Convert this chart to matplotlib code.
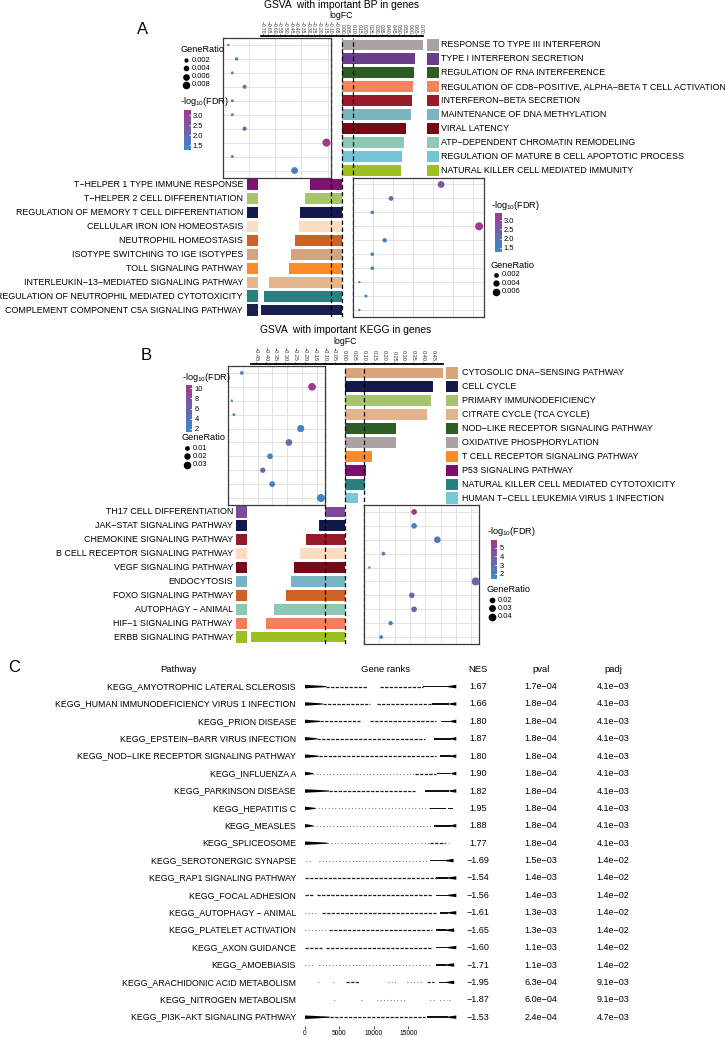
import numpy as np
import matplotlib
matplotlib.use("Agg")
import matplotlib.pyplot as plt
from matplotlib import transforms, ticker
from matplotlib.colors import LinearSegmentedColormap, Normalize
from matplotlib.cm import ScalarMappable

plt.rcParams['font.family'] = ['Liberation Sans', 'DejaVu Sans']
plt.rcParams['mathtext.default'] = 'regular'

# ---------------- panel A : GSVA, GO BP ----------------
bp_up_terms = ["RESPONSE TO TYPE III INTERFERON", "TYPE I INTERFERON SECRETION",
               "REGULATION OF RNA INTERFERENCE",
               "REGULATION OF CD8−POSITIVE, ALPHA−BETA T CELL ACTIVATION",
               "INTERFERON−BETA SECRETION", "MAINTENANCE OF DNA METHYLATION", "VIRAL LATENCY",
               "ATP−DEPENDENT CHROMATIN REMODELING",
               "REGULATION OF MATURE B CELL APOPTOTIC PROCESS",
               "NATURAL KILLER CELL MEDIATED IMMUNITY"]
bp_up_logfc = [0.715, 0.644, 0.636, 0.627, 0.618, 0.609, 0.565, 0.547, 0.530, 0.521]
bp_up_colors = ["#A9A3A3", "#6A3D8C", "#2E5C25", "#F8825E", "#9A1A2C",
                "#7AB5C0", "#750A16", "#8EC9B5", "#74C5D5", "#9CBF21"]
bp_up_ratio = [0.00047, 0.0012, 0.00082, 0.0019, 0.00082, 0.00082, 0.0019, 0.0091, 0.00082, 0.0063]
bp_up_fdr = [1.25, 1.45, 1.4, 1.6, 1.4, 1.45, 2.4, 3.25, 1.4, 1.6]

bp_dn_terms = ["T−HELPER 1 TYPE IMMUNE RESPONSE", "T−HELPER 2 CELL DIFFERENTIATION",
               "REGULATION OF MEMORY T CELL DIFFERENTIATION", "CELLULAR IRON ION HOMEOSTASIS",
               "NEUTROPHIL HOMEOSTASIS", "ISOTYPE SWITCHING TO IGE ISOTYPES",
               "TOLL SIGNALING PATHWAY", "INTERLEUKIN−13−MEDIATED SIGNALING PATHWAY",
               "REGULATION OF NEUTROPHIL MEDIATED CYTOTOXICITY",
               "COMPLEMENT COMPONENT C5A SIGNALING PATHWAY"]
bp_dn_logfc = [-0.282, -0.327, -0.371, -0.380, -0.415, -0.450, -0.468, -0.644, -0.688, -0.715]
bp_dn_colors = ["#7D1270", "#A7C46C", "#131A4C", "#FDDCC1", "#CC6326",
                "#D3A47F", "#FB8A2B", "#E5B58D", "#2A7F80", "#1B1F4F"]
bp_dn_ratio = [0.00484, 0.00209, 0.00106, 0.00693, 0.00174, 0.00106, 0.00106, 0.00035, 0.00071, 0.00035]
bp_dn_fdr = [2.6, 2.3, 1.5, 3.38, 1.6, 1.5, 1.55, 1.3, 1.45, 1.27]

# ---------------- panel B : GSVA, KEGG ----------------
kg_up_terms = ["CYTOSOLIC DNA−SENSING PATHWAY", "CELL CYCLE", "PRIMARY IMMUNODEFICIENCY",
               "CITRATE CYCLE (TCA CYCLE)", "NOD−LIKE RECEPTOR SIGNALING PATHWAY",
               "OXIDATIVE PHOSPHORYLATION", "T CELL RECEPTOR SIGNALING PATHWAY",
               "P53 SIGNALING PATHWAY", "NATURAL KILLER CELL MEDIATED CYTOTOXICITY",
               "HUMAN T−CELL LEUKEMIA VIRUS 1 INFECTION"]
kg_up_logfc = [0.500, 0.448, 0.437, 0.420, 0.263, 0.263, 0.140, 0.110, 0.105, 0.068]
kg_up_colors = ["#D9A57B", "#14184A", "#A7C46C", "#E3B48B", "#2E5C25",
                "#A9A3A3", "#FB8A2B", "#7B0F6E", "#2A7F80", "#76C8D6"]
kg_up_ratio = [0.0051, 0.0312, 0.0014, 0.0022, 0.0270, 0.0226, 0.0156, 0.0129, 0.0164, 0.0345]
kg_up_fdr = [2.3, 10.6, 1.4, 4.5, 2.4, 4.8, 2.3, 5.5, 2.4, 2.0]

kg_dn_terms = ["TH17 CELL DIFFERENTIATION", "JAK−STAT SIGNALING PATHWAY",
               "CHEMOKINE SIGNALING PATHWAY", "B CELL RECEPTOR SIGNALING PATHWAY",
               "VEGF SIGNALING PATHWAY", "ENDOCYTOSIS", "FOXO SIGNALING PATHWAY",
               "AUTOPHAGY − ANIMAL", "HIF−1 SIGNALING PATHWAY", "ERBB SIGNALING PATHWAY"]
kg_dn_logfc = [-0.100, -0.129, -0.198, -0.224, -0.258, -0.273, -0.295, -0.356, -0.398, -0.475]
kg_dn_colors = ["#7C4B9A", "#141848", "#951B2A", "#FDDCC1", "#760A1A",
                "#79B4C2", "#CD6226", "#8BC7B2", "#F57E5E", "#9CBF21"]
kg_dn_ratio = [0.0196, 0.0196, 0.0287, 0.0076, 0.0021, 0.0437, 0.0187, 0.0196, 0.0104, 0.0067]
kg_dn_fdr = [5.9, 1.8, 2.6, 2.0, 1.4, 3.8, 3.5, 3.5, 2.0, 2.1]

# ---------------- panel C : fgsea table ----------------
gsea_terms = ["KEGG_AMYOTROPHIC LATERAL SCLEROSIS", "KEGG_HUMAN IMMUNODEFICIENCY VIRUS 1 INFECTION",
              "KEGG_PRION DISEASE", "KEGG_EPSTEIN−BARR VIRUS INFECTION",
              "KEGG_NOD−LIKE RECEPTOR SIGNALING PATHWAY", "KEGG_INFLUENZA A",
              "KEGG_PARKINSON DISEASE", "KEGG_HEPATITIS C", "KEGG_MEASLES", "KEGG_SPLICEOSOME",
              "KEGG_SEROTONERGIC SYNAPSE", "KEGG_RAP1 SIGNALING PATHWAY", "KEGG_FOCAL ADHESION",
              "KEGG_AUTOPHAGY − ANIMAL", "KEGG_PLATELET ACTIVATION", "KEGG_AXON GUIDANCE",
              "KEGG_AMOEBIASIS", "KEGG_ARACHIDONIC ACID METABOLISM", "KEGG_NITROGEN METABOLISM",
              "KEGG_PI3K−AKT SIGNALING PATHWAY"]
gsea_nes = [1.67, 1.66, 1.80, 1.87, 1.80, 1.90, 1.82, 1.95, 1.88, 1.77,
            -1.69, -1.54, -1.56, -1.61, -1.65, -1.60, -1.71, -1.95, -1.87, -1.53]
gsea_pval = [1.7e-4, 1.8e-4, 1.8e-4, 1.8e-4, 1.8e-4, 1.8e-4, 1.8e-4, 1.8e-4, 1.8e-4, 1.8e-4,
             1.5e-3, 1.4e-3, 1.4e-3, 1.3e-3, 1.3e-3, 1.1e-3, 1.1e-3, 6.3e-4, 6.0e-4, 2.4e-4]
gsea_padj = [4.1e-3] * 10 + [1.4e-2] * 7 + [9.1e-3, 9.1e-3, 4.7e-3]
n_ranked = 22100
# barcode runs: (start rank, end rank, kind)
# H = leading wedge, T = trailing wedge, d = dense, m = dashed, s = sparse
gsea_runs = [
    [(0, 3100, 'H'), (3100, 9000, 'm'), (10900, 17100, 'm'), (17100, 20800, 'd'), (20800, 22000, 'T')],
    [(0, 2600, 'H'), (2600, 9500, 'm'), (10500, 18500, 'm'), (18500, 21000, 'd'), (21000, 22000, 'T')],
    [(0, 2200, 'H'), (2200, 8000, 'm'), (9500, 19000, 'm'), (19800, 21200, 'd'), (21200, 22000, 'T')],
    [(0, 1800, 'H'), (1800, 17500, 'm'), (18800, 21200, 'd'), (21200, 22000, 'T')],
    [(0, 2000, 'H'), (2000, 19000, 'm'), (19600, 21200, 'd'), (21200, 22000, 'T')],
    [(0, 1200, 'H'), (1200, 16000, 's'), (16000, 19000, 'm'), (19200, 21300, 'd'), (21300, 22000, 'T')],
    [(0, 3500, 'H'), (3500, 16000, 'm'), (17500, 21000, 'd'), (21000, 22000, 'T')],
    [(0, 1500, 'H'), (1500, 18000, 's'), (18200, 20500, 'd'), (20800, 21500, 'd')],
    [(0, 1200, 'H'), (1200, 18500, 's'), (18700, 21200, 'd'), (21200, 22000, 'T')],
    [(0, 3300, 'H'), (3300, 18000, 's'), (18200, 20300, 'm'), (20300, 21000, 's')],
    [(200, 1000, 's'), (2000, 18000, 's'), (18200, 20500, 'd'), (20500, 21600, 'T')],
    [(0, 2000, 'm'), (2000, 19000, 'm'), (19000, 20800, 'd'), (20800, 22000, 'T')],
    [(0, 1200, 'm'), (1800, 18500, 'm'), (19000, 20800, 'd'), (20800, 22000, 'T')],
    [(0, 1800, 's'), (2500, 19000, 'm'), (19600, 20800, 'd'), (20800, 22000, 'T')],
    [(0, 3000, 's'), (3500, 18500, 'm'), (19000, 20500, 'd'), (20500, 21700, 'T')],
    [(0, 2500, 'm'), (3000, 18500, 'm'), (19000, 20800, 'd'), (20800, 22000, 'T')],
    [(0, 1500, 's'), (2000, 18500, 's'), (19000, 20500, 'd'), (20500, 21700, 'T')],
    [(1900, 2200, 's'), (4000, 4500, 's'), (6000, 7800, 'm'), (12000, 13500, 's'),
     (14800, 16800, 's'), (17800, 18700, 'm'), (19500, 20600, 'd'), (20600, 21700, 'T')],
    [(4200, 4400, 's'), (8200, 8400, 's'), (10500, 14500, 's'), (18200, 18900, 's'),
     (19600, 20600, 's'), (21000, 21200, 's')],
    [(0, 3600, 'H'), (3600, 17500, 'm'), (17700, 20800, 'd'), (20800, 22000, 'T')],
]

# ---------------- figure ----------------
W, H = 725, 1038
fig = plt.figure(figsize=(W / 100, H / 100), dpi=100)
PX = transforms.Affine2D().scale(1 / W, -1 / H).translate(0, 1) + fig.transFigure


def axes_px(x0, y0, x1, y1, **kw):
    return fig.add_axes([x0 / W, 1 - y1 / H, (x1 - x0) / W, (y1 - y0) / H], **kw)


overlay = axes_px(0, 0, W, H, zorder=20)
overlay.set_xlim(0, W)
overlay.set_ylim(H, 0)
overlay.axis('off')

fdr_cmap = LinearSegmentedColormap.from_list('fdr', ['#3A8CCB', '#A3398B'])
D_MIN, D_MAX = 1.75, 5.8  # dot diameter range (pt)
LABEL_FS = 6.4


def dot_area(v, lo, hi):
    f = (np.sqrt(v) - np.sqrt(lo)) / (np.sqrt(hi) - np.sqrt(lo))
    return (D_MIN + (D_MAX - D_MIN) * np.clip(f, 0, 1)) ** 2


def dotplot(box, ratio, fdr, xmax, step):
    ax = axes_px(*box, zorder=5)
    rows = np.arange(len(ratio))
    lo, hi = min(ratio), max(ratio)
    norm = Normalize(min(fdr), max(fdr))
    ax.scatter(ratio, rows, s=dot_area(np.array(ratio), lo, hi), c=fdr, cmap=fdr_cmap,
               norm=norm, lw=0, zorder=3, clip_on=False)
    ax.set_xlim(0, xmax)
    ax.set_ylim(len(ratio) - 0.5, -0.5)
    ax.set_yticks(rows)
    ax.xaxis.set_major_locator(ticker.MultipleLocator(step))
    ax.tick_params(length=0, labelbottom=False, labelleft=False)
    ax.grid(True, color='#E3E3E3', lw=0.7)
    ax.set_axisbelow(True)
    for s in ax.spines.values():
        s.set_color('#3A3A3A')
        s.set_linewidth(0.9)
    return norm, lo, hi


def fdr_legend(x, y, norm, ticks, fmt, bar_h):
    overlay.text(x, y, '-log$_{10}$(FDR)', fontsize=6.6, va='center', ha='left')
    cax = axes_px(x + 4, y + 8, x + 10.5, y + 8 + bar_h, zorder=21)
    cb = fig.colorbar(ScalarMappable(norm, fdr_cmap), cax=cax, ticks=ticks)
    cb.outline.set_visible(False)
    cb.ax.set_yticklabels([fmt.format(t) for t in ticks])
    cax.tick_params(labelsize=5.4, length=1.8, width=0.6, color='white', direction='in', pad=1.5)


def ratio_legend(x, y, vals, lo, hi):
    overlay.text(x, y, 'GeneRatio', fontsize=6.6, va='center', ha='left')
    for i, v in enumerate(vals):
        yy = y + 10 + i * 8.3
        overlay.scatter(x + 5, yy, s=dot_area(v, lo, hi), color='black', lw=0)
        overlay.text(x + 10.5, yy, f'{v:g}', fontsize=5.4, va='center', ha='left')


def gsva_panel(box, up_fc, up_col, up_terms, dn_fc, dn_col, dn_terms, ticks, tick_fs,
               up_key, dn_key, up_lx, dn_lx):
    ax = axes_px(*box, zorder=2)
    n_up, n_dn = len(up_fc), len(dn_fc)
    rows_up = np.arange(n_up)
    rows_dn = n_up + np.arange(n_dn)
    ax.barh(rows_up, up_fc, height=0.78, color=up_col)
    ax.barh(rows_dn, dn_fc, height=0.78, color=dn_col)
    ax.set_xlim(min(dn_fc), max(up_fc))
    ax.set_ylim(n_up + n_dn - 0.5, -0.5)
    for v in (-0.1, 0, 0.1):
        ax.axvline(v, color='black', lw=0.9, ls=(0, (3.5, 2.2)), zorder=4)
    ax.xaxis.tick_top()
    ax.set_xticks(ticks)
    ax.set_xticklabels([f'{t + 0:.2f}'.replace('-', '−') for t in ticks])
    ax.tick_params(axis='x', length=1.5, width=0.5, pad=0.8, labelrotation=270,
                   labelsize=tick_fs, labelcolor='#333333')
    ax.set_yticks([])
    for s in ('left', 'right', 'bottom'):
        ax.spines[s].set_visible(False)
    ax.spines['top'].set_position(('outward', 1.2))
    ax.spines['top'].set_linewidth(1.3)
    ax.patch.set_alpha(0)

    tr = transforms.blended_transform_factory(PX, ax.transData)
    for rows, cols, terms, (kx0, kx1), lx, ha in ((rows_up, up_col, up_terms, up_key, up_lx, 'left'),
                                                  (rows_dn, dn_col, dn_terms, dn_key, dn_lx, 'right')):
        k = axes_px(kx0, box[1], kx1, box[3])
        k.barh(rows, 1, height=0.8, color=cols)
        k.set_xlim(0, 1)
        k.set_ylim(ax.get_ylim())
        k.axis('off')
        for r, t in zip(rows, terms):
            ax.text(lx, r, t, transform=tr, ha=ha, va='center', fontsize=LABEL_FS)
    return ax


# ---- panel A ----
overlay.text(143, 30, 'A', fontsize=12, ha='center', va='center')
overlay.text(342, 5, 'GSVA  with important BP in genes', fontsize=7.4, ha='center', va='center')
overlay.text(341, 15, 'logFC', fontsize=6.3, ha='center', va='center')
gsva_panel((261, 38, 423, 317), bp_up_logfc, bp_up_colors, bp_up_terms,
           bp_dn_logfc, bp_dn_colors, bp_dn_terms,
           np.round(np.arange(-0.70, 0.701, 0.05), 2), 3.5,
           (427, 439), (247, 258), 441, 243)
norm, lo, hi = dotplot((223, 38, 331, 177.5), bp_up_ratio, bp_up_fdr, 0.0095, 0.0023)
ratio_legend(181, 50, [0.002, 0.004, 0.006, 0.008], lo, hi)
fdr_legend(180, 102, norm, [1.5, 2.0, 2.5, 3.0], '{:.1f}', 40)
norm, lo, hi = dotplot((353, 177.5, 484, 317), bp_dn_ratio, bp_dn_fdr, 0.0072, 0.0011)
fdr_legend(491, 205, norm, [1.5, 2.0, 2.5, 3.0], '{:.1f}', 39)
ratio_legend(491, 265, [0.002, 0.004, 0.006], lo, hi)

# ---- panel B ----
overlay.text(146, 355, 'B', fontsize=12, ha='center', va='center')
overlay.text(346, 330, 'GSVA  with important KEGG in genes', fontsize=7.4, ha='center', va='center')
overlay.text(345, 341.5, 'logFC', fontsize=6.3, ha='center', va='center')
gsva_panel((251, 366, 443, 644), kg_up_logfc, kg_up_colors, kg_up_terms,
           kg_dn_logfc, kg_dn_colors, kg_dn_terms,
           np.round(np.arange(-0.45, 0.451, 0.05), 2), 4.0,
           (446, 458), (236, 247), 462, 233)
norm, lo, hi = dotplot((228, 366, 325, 505), kg_up_ratio, kg_up_fdr, 0.036, 0.0055)
fdr_legend(182, 377, norm, [2, 4, 6, 8, 10], '{:d}', 47)
ratio_legend(182, 438, [0.01, 0.02, 0.03], lo, hi)
norm, lo, hi = dotplot((364, 505, 479, 644), kg_dn_ratio, kg_dn_fdr, 0.045, 0.006)
fdr_legend(487, 532, norm, [2, 3, 4, 5], '{:d}', 39)
ratio_legend(487, 590, [0.02, 0.03, 0.04], lo, hi)

# ---- panel C ----
overlay.text(8, 667, 'C', fontsize=12, ha='left', va='center')
for hx, htxt in ((178, 'Pathway'), (386, 'Gene ranks'), (478, 'NES'), (541, 'pval'), (613, 'padj')):
    overlay.text(hx, 669, htxt, fontsize=6.8, ha='center', va='center')

gax = axes_px(305, 677.9, 457, 1025.9)
n = len(gsea_terms)
gax.set_xlim(0, n_ranked)
gax.set_ylim(n - 0.5, -0.5)
for i, runs in enumerate(gsea_runs):
    for s, e, kind in runs:
        if kind == 'H':
            gax.fill([s, e, e, s], [i - 0.1, i - 0.03, i + 0.03, i + 0.1], color='black', lw=0)
        elif kind == 'T':
            gax.fill([s, e, e, s], [i - 0.035, i - 0.1, i + 0.1, i + 0.035], color='black', lw=0)
        elif kind == 'd':
            gax.fill([s, e, e, s], [i - 0.05, i - 0.05, i + 0.05, i + 0.05], color='#111111', lw=0)
        elif kind == 'm':
            gax.hlines(i, s, e, colors='#1A1A1A', linewidth=0.9, linestyles=[(0, (2.6, 1.1))])
        else:
            gax.hlines(i, s, e, colors='#333333', linewidth=0.8, linestyles=[(0, (0.6, 2.4))])
gax.set_xticks([0, 5000, 10000, 15000])
gax.set_yticks([])
gax.tick_params(axis='x', length=2, width=0.5, labelsize=4.8, pad=1)
for sp in gax.spines.values():
    sp.set_visible(False)

trc = transforms.blended_transform_factory(PX, gax.transData)
for i in range(n):
    gax.text(296, i, gsea_terms[i], transform=trc, ha='right', va='center', fontsize=6.3)
    gax.text(478, i, f'{gsea_nes[i]:.2f}'.replace('-', '−'), transform=trc,
             ha='center', va='center', fontsize=6.5)
    gax.text(541, i, f'{gsea_pval[i]:.1e}'.replace('-', '−'), transform=trc,
             ha='center', va='center', fontsize=6.5)
    gax.text(613, i, f'{gsea_padj[i]:.1e}'.replace('-', '−'), transform=trc,
             ha='center', va='center', fontsize=6.5)

fig.savefig('out.png', dpi=100)
